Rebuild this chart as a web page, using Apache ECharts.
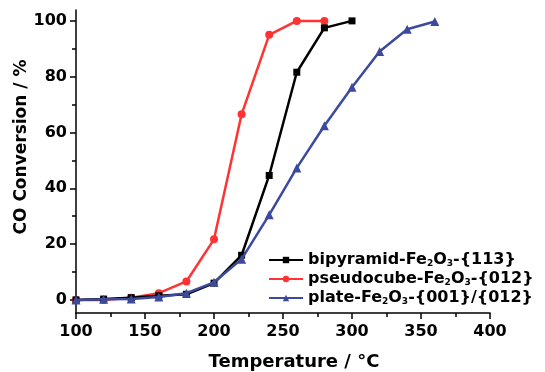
<!DOCTYPE html>
<html>
<head>
<meta charset="utf-8">
<script src="https://cdn.jsdelivr.net/npm/echarts@6/dist/echarts.min.js"></script>
<style>
  html, body { margin: 0; padding: 0; background: #fff; }
  #chart { width: 545px; height: 372px; }
</style>
</head>
<body>
<div id="chart"></div>
<script>
// temperatures (°C) and CO conversion (%)
const bipyramidTemps = [100, 120, 140, 160, 180, 200, 220, 240, 260, 280, 300];
const bipyramidConv = [0, 0.3, 0.8, 1.5, 2, 6, 16, 44.6, 81.6, 97.5, 100];

const pseudocubeTemps = [100, 120, 140, 160, 180, 200, 220, 240, 260, 280];
const pseudocubeConv = [0, 0, 0.8, 2.4, 6.6, 21.7, 66.5, 95, 100, 100];

const plateTemps = [100, 120, 140, 160, 180, 200, 220, 240, 260, 280, 300, 320, 340, 360];
const plateConv = [0, 0.2, 0.3, 1, 2.4, 6.3, 14.6, 30.5, 47.3, 62.4, 76.2, 89, 97, 99.8];

const yMajorTicks = [0, 20, 40, 60, 80, 100];
const yMinorTicks = [10, 30, 50, 70, 90];

const seriesNames = [
  "bipyramid-Fe{sub|2}O{sub|3}-{113}",
  "pseudocube-Fe{sub|2}O{sub|3}-{012}",
  "plate-Fe{sub|2}O{sub|3}-{001}/{012}",
];

const FONT = "DejaVu Sans, sans-serif";

function pairs(xs, ys) {
  return xs.map((x, i) => [x, ys[i]]);
}

const chart = echarts.init(document.getElementById("chart"));

const option = {
  animation: false,
  grid: { left: 76, right: 55, top: 10, bottom: 59, outerBoundsMode: "none" },
  graphic: [
    {
      // y axis title, sits a bit above the axis middle in the original
      type: "text",
      x: 22,
      y: 147,
      rotation: Math.PI / 2,
      style: {
        text: "CO Conversion / %",
        fontFamily: FONT,
        fontWeight: "bold",
        fontSize: 17,
        fill: "#000",
        align: "center",
        verticalAlign: "middle",
      },
    },
  ],
  legend: {
    orient: "vertical",
    left: 263,
    top: 247,
    itemWidth: 34,
    itemHeight: 8,
    itemGap: 3,
    data: seriesNames,
    formatter: (name) => name,
    textStyle: {
      fontFamily: FONT,
      fontWeight: "bold",
      fontSize: 16,
      color: "#000",
      rich: {
        sub: {
          fontFamily: FONT,
          fontWeight: "bold",
          fontSize: 9,
          color: "#000",
          verticalAlign: "bottom",
          padding: [6, 0, 0, 0],
        },
      },
    },
  },
  xAxis: {
    type: "value",
    min: 100,
    max: 400,
    interval: 50,
    name: "Temperature / °C",
    nameLocation: "middle",
    nameGap: 40,
    nameTextStyle: {
      fontFamily: FONT,
      fontWeight: "bold",
      fontSize: 18,
      color: "#000",
      padding: [0, 0, 0, 22],
    },
    axisLine: { onZero: false, lineStyle: { color: "#000", width: 1.5 } },
    axisTick: { length: 6, lineStyle: { color: "#000", width: 1.5 } },
    minorTick: { show: true, splitNumber: 2, length: 4, lineStyle: { color: "#000", width: 1.5 } },
    axisLabel: {
      margin: 11,
      fontFamily: FONT,
      fontWeight: "bold",
      fontSize: 16,
      color: "#000",
    },
    splitLine: { show: false },
  },
  yAxis: [
    {
      type: "value",
      min: -4.7,
      max: 103.9,
      axisLine: { show: true, lineStyle: { color: "#000", width: 1.5 } },
      axisTick: { show: true, length: 6, customValues: yMajorTicks, lineStyle: { color: "#000", width: 1.5 } },
      axisLabel: {
        customValues: yMajorTicks,
        margin: 9,
        fontFamily: FONT,
        fontWeight: "bold",
        fontSize: 16,
        color: "#000",
      },
      splitLine: { show: false },
    },
    {
      type: "value",
      min: -4.7,
      max: 103.9,
      position: "left",
      axisLine: { show: false },
      axisTick: { show: true, length: 4, customValues: yMinorTicks, lineStyle: { color: "#000", width: 1.5 } },
      axisLabel: { show: false },
      splitLine: { show: false },
    },
  ],
  series: [
    {
      name: seriesNames[0],
      type: "line",
      data: pairs(bipyramidTemps, bipyramidConv),
      symbol: "rect",
      symbolSize: 7,
      color: "#000000",
      lineStyle: { width: 2.5 },
      z: 3,
    },
    {
      name: seriesNames[1],
      type: "line",
      data: pairs(pseudocubeTemps, pseudocubeConv),
      symbol: "circle",
      symbolSize: 8,
      color: "#FF3333",
      lineStyle: { width: 2.5 },
      z: 2,
    },
    {
      name: seriesNames[2],
      type: "line",
      data: pairs(plateTemps, plateConv),
      symbol: "triangle",
      symbolSize: 9,
      color: "#3B4A9B",
      lineStyle: { width: 2.5 },
      z: 4,
    },
  ],
};

chart.setOption(option);
</script>
</body>
</html>
